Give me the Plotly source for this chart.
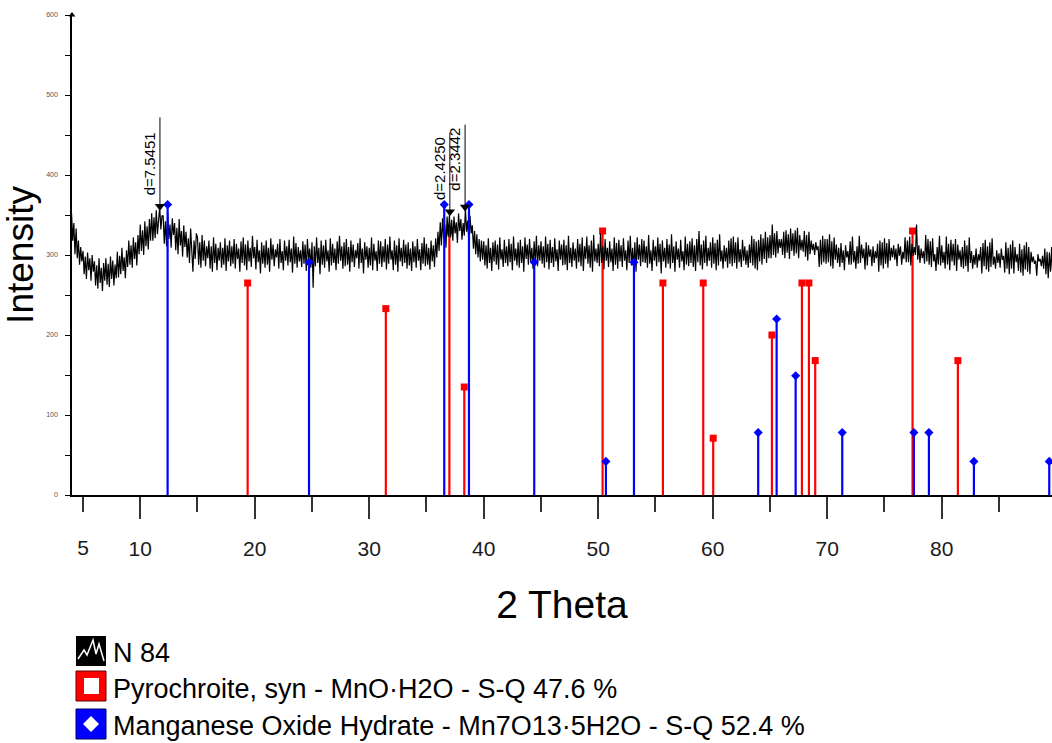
import plotly.graph_objects as go

# ---------------- data ----------------
scan_start = 4.0
scan_step = 0.1
intensity = [
    352,318,340,301,333,296,318,288,310,292,
    305,276,298,270,303,281,296,268,300,279,
    292,262,287,258,296,265,284,255,290,268,
    296,263,289,260,298,270,293,262,288,271,
    304,272,299,276,309,280,297,271,306,285,
    318,288,312,284,322,295,316,287,325,301,
    338,305,331,300,342,311,336,307,345,318,
    352,318,347,321,356,326,343,360,332,349,
    349,314,342,311,353,320,338,309,346,325,
    340,306,334,301,345,312,330,298,337,310,
    329,297,321,290,333,300,279,318,295,327,
    322,288,316,284,325,293,318,286,311,296,
    318,283,311,279,322,290,314,281,309,293,
    316,284,309,288,321,280,312,292,318,286,
    311,289,320,283,314,295,308,279,317,290,
    322,287,313,281,318,292,309,285,324,296,
    310,282,319,291,306,277,316,289,312,284,
    318,288,309,279,321,294,313,286,307,297,
    314,283,320,290,305,281,318,293,311,287,
    319,291,308,278,323,289,315,284,310,292,
    306,285,317,289,313,280,320,294,308,284,
    316,259,311,286,322,290,309,276,318,288,
    312,284,319,292,306,279,321,287,314,290,
    308,281,317,289,324,293,311,283,316,286,
    320,288,310,279,318,291,313,285,306,296,
    315,283,321,290,308,277,316,294,311,284,
    309,287,322,281,314,293,305,280,318,289,
    317,285,311,291,320,282,313,289,323,294,
    306,281,318,288,312,279,321,292,309,286,
    319,290,313,283,316,287,308,280,317,291,
    311,284,320,293,307,281,315,289,322,286,
    314,288,309,282,318,292,312,285,321,297,
    329,305,341,312,346,320,338,309,348,323,
    350,322,344,318,348,327,341,315,352,330,
    345,319,340,324,358,329,343,316,349,327,
    337,308,330,301,326,297,320,292,318,294,
    317,287,312,283,321,290,309,280,316,292,
    318,288,313,282,322,294,307,285,319,290,
    311,286,320,291,314,281,323,293,308,287,
    316,284,319,290,311,279,322,295,313,288,
    320,292,309,283,317,289,324,286,312,293,
    317,289,311,284,323,291,314,282,319,290,
    310,285,321,292,307,280,318,294,313,287,
    319,288,312,281,324,290,309,285,316,293,
    308,283,320,291,314,286,322,280,311,295,
    323,289,312,284,318,279,325,292,308,290,
    314,286,327,290,311,282,320,293,309,285,
    317,291,308,280,322,288,315,283,319,292,
    312,285,321,293,306,281,318,290,324,287,
    309,283,316,279,322,294,313,286,320,291,
    318,290,311,284,325,289,306,280,319,293,
    311,286,322,291,314,277,318,292,309,284,
    320,289,313,283,326,290,311,279,317,294,
    308,284,319,292,305,281,323,288,314,286,
    317,290,321,285,312,280,320,291,330,287,
    313,282,318,290,324,286,309,293,316,284,
    322,289,315,281,319,287,326,292,306,283,
    312,292,309,284,318,289,321,286,323,290,
    316,283,322,291,307,285,319,293,311,288,
    306,284,313,290,324,287,320,283,317,281,
    319,292,326,288,321,295,329,290,322,296,
    325,296,338,300,327,297,330,302,320,309,
    320,300,329,296,331,303,326,295,333,305,
    327,299,331,302,334,296,325,306,319,304,
    330,298,325,293,329,301,318,306,314,300,
    316,306,311,285,319,288,324,291,320,289,
    320,291,326,286,317,283,322,294,313,290,
    309,285,315,290,306,281,312,297,305,288,
    317,288,323,291,305,283,311,289,324,290,
    313,296,308,282,316,287,312,298,307,286,
    311,290,305,296,314,279,318,287,316,283,
    321,289,315,284,320,293,309,297,312,294,
    308,286,314,299,311,288,304,295,322,291,
    318,291,323,287,314,299,310,300,338,294,
    312,290,308,296,305,289,325,292,320,288,
    317,285,321,292,301,280,310,288,324,287,
    312,290,304,283,323,288,314,281,319,292,
    314,287,320,280,313,294,306,285,310,283,
    318,286,312,279,322,290,305,283,300,288,
    308,284,301,293,310,277,315,286,319,282,
    311,279,316,285,321,288,298,283,306,290,
    302,284,308,294,299,278,316,283,309,276,
    313,283,318,277,310,291,301,280,314,278,
    307,274,312,282,316,279,310,276,304,291,
    298,289,293,274,301,292,295,286,299,283,
    308,276,304,271,303,279,310,273,301,277,
    288,
]
two_theta = [round(scan_start + i * scan_step, 2) for i in range(len(intensity))]

pyro_theta = [19.38, 31.45, 37.0, 38.3, 50.38, 55.65, 59.17, 60.04, 65.17, 67.79, 68.40, 68.95, 77.45, 81.41]
pyro_int = [265, 233, 330, 135, 330, 265, 265, 71, 200, 265, 265, 168, 330, 168]

mnox_theta = [12.39, 24.74, 36.55, 38.71, 44.41, 50.67, 53.12, 63.97, 65.58, 67.24, 71.31, 77.57, 78.88, 82.81, 89.39]
mnox_int = [363, 291, 363, 363, 291, 42, 291, 78, 220, 149, 78, 78, 78, 42, 42]

peak_d = ["d=7.5451", "d=2.4250", "d=2.3442"]
peak_theta = [11.72, 37.04, 38.37]
peak_tip = [357, 350, 356]
peak_top = [472, 453, 463]
peak_text_bottom = [372, 366, 378]

x_ticks = [10, 20, 30, 40, 50, 60, 70, 80, 90]
x_minor = [5, 15, 25, 35, 45, 55, 65, 75, 85]
y_ticks = [0, 100, 200, 300, 400, 500, 600]
y_minor = [50, 150, 250, 350, 450, 550]

legend_labels = ["N 84",
                 "Pyrochroite, syn - MnO\u00b7H2O - S-Q 47.6 %",
                 "Manganese Oxide Hydrate - Mn7O13\u00b75H2O - S-Q 52.4 %"]

RED = "#ff0000"
BLUE = "#0000ff"
FONT = "Liberation Sans, Arial, sans-serif"

W, H = 1052, 743
ML, MR, MT, MB = 72, 0, 15, 248
XR = [4.04, 89.63]
YR = [0, 600]


def stems(xs, ys):
    sx, sy = [], []
    for x, y in zip(xs, ys):
        sx += [x, x, None]
        sy += [0, y, None]
    return sx, sy


fig = go.Figure()

# red sticks (below the pattern)
sx, sy = stems(pyro_theta, pyro_int)
fig.add_trace(go.Scatter(x=sx, y=sy, mode="lines", line=dict(color=RED, width=2.2),
                         hoverinfo="skip", showlegend=False, xaxis="x", yaxis="y"))
fig.add_trace(go.Scatter(x=pyro_theta, y=pyro_int, mode="markers",
                         marker=dict(symbol="square", size=7, color=RED),
                         showlegend=False, xaxis="x", yaxis="y"))

# measured pattern
fig.add_trace(go.Scatter(x=two_theta, y=intensity, mode="lines",
                         line=dict(color="black", width=1.2),
                         showlegend=False, xaxis="x2", yaxis="y"))

# blue sticks (above the pattern)
sx, sy = stems(mnox_theta, mnox_int)
fig.add_trace(go.Scatter(x=sx, y=sy, mode="lines", line=dict(color=BLUE, width=2.2),
                         hoverinfo="skip", showlegend=False, xaxis="x2", yaxis="y"))
fig.add_trace(go.Scatter(x=mnox_theta, y=mnox_int, mode="markers",
                         marker=dict(symbol="diamond", size=7, color=BLUE),
                         showlegend=False, xaxis="x2", yaxis="y"))

# d-spacing markers
lx, ly = [], []
for t, tip, top in zip(peak_theta, peak_tip, peak_top):
    lx += [t, t, None]
    ly += [tip, top, None]
fig.add_trace(go.Scatter(x=lx, y=ly, mode="lines", line=dict(color="black", width=1),
                         hoverinfo="skip", showlegend=False, xaxis="x2", yaxis="y"))
fig.add_trace(go.Scatter(x=peak_theta, y=[v + 4 for v in peak_tip], mode="markers",
                         marker=dict(symbol="triangle-down", size=9, color="black"),
                         showlegend=False, xaxis="x2", yaxis="y"))
for t, txt, yb in zip(peak_theta, peak_d, peak_text_bottom):
    fig.add_annotation(x=t, y=yb, xref="x2", yref="y", text=txt, textangle=-90,
                       showarrow=False, xanchor="right", yanchor="bottom", xshift=0,
                       font=dict(family=FONT, size=15, color="black"))

# y-axis arrow head
fig.add_trace(go.Scatter(x=[XR[0]], y=[YR[1]], mode="markers",
                         marker=dict(symbol="triangle-up", size=6, color="black"),
                         cliponaxis=False, showlegend=False, xaxis="x2", yaxis="y"))


def pxx(px):
    return (px - ML) / (W - ML - MR)


def pxy(py):
    return (H - MB - py) / (H - MT - MB)


# legend (drawn manually)
shapes = []
shapes.append(dict(type="rect", xref="paper", yref="paper", x0=pxx(76), x1=pxx(106),
                   y0=pxy(666), y1=pxy(636), fillcolor="black", line=dict(width=0)))
zig = [(78, 659), (84, 650), (87, 655), (93, 640), (96, 654), (99, 644), (104, 661)]
path = "M " + " L ".join(f"{pxx(a):.5f},{pxy(b):.5f}" for a, b in zig)
shapes.append(dict(type="path", xref="paper", yref="paper", path=path,
                   line=dict(color="white", width=1.5)))
shapes.append(dict(type="rect", xref="paper", yref="paper", x0=pxx(76), x1=pxx(106),
                   y0=pxy(701), y1=pxy(671), fillcolor=RED, line=dict(color="#600000", width=1)))
shapes.append(dict(type="rect", xref="paper", yref="paper", x0=pxx(84), x1=pxx(99),
                   y0=pxy(694), y1=pxy(678), fillcolor="white", line=dict(width=0)))
shapes.append(dict(type="rect", xref="paper", yref="paper", x0=pxx(76), x1=pxx(106),
                   y0=pxy(739), y1=pxy(709), fillcolor=BLUE, line=dict(color="#000060", width=1)))
dcx, dcy, dr = 91, 724, 8
dpath = (f"M {pxx(dcx):.5f},{pxy(dcy - dr):.5f} L {pxx(dcx + dr):.5f},{pxy(dcy):.5f} "
         f"L {pxx(dcx):.5f},{pxy(dcy + dr):.5f} L {pxx(dcx - dr):.5f},{pxy(dcy):.5f} Z")
shapes.append(dict(type="path", xref="paper", yref="paper", path=dpath,
                   fillcolor="white", line=dict(width=0)))

for lab, cy in zip(legend_labels, [653, 689, 726]):
    fig.add_annotation(x=pxx(111), y=pxy(cy), xref="paper", yref="paper", text=lab,
                       showarrow=False, xanchor="left", yanchor="middle",
                       font=dict(family=FONT, size=27, color="black"))

fig.update_layout(
    width=W, height=H,
    margin=dict(l=ML, r=MR, t=MT, b=MB, pad=0),
    plot_bgcolor="white", paper_bgcolor="white",
    shapes=shapes,
    showlegend=False,
    font=dict(family=FONT, color="black"),
    xaxis=dict(range=XR, autorange=False, showgrid=False, zeroline=False,
               showline=True, linecolor="black", linewidth=1.5,
               tickmode="array", tickvals=x_ticks, ticks="outside", ticklen=22,
               tickwidth=1.5, tickcolor="#333333", ticklabelstandoff=12,
               tickfont=dict(family=FONT, size=21, color="#1a1a1a"),
               minor=dict(tickmode="array", tickvals=x_minor, ticks="outside",
                          ticklen=15, tickwidth=1.5, tickcolor="#333333", showgrid=False),
               title=dict(text="2 Theta", font=dict(family=FONT, size=39, color="black"),
                          standoff=32)),
    xaxis2=dict(range=XR, autorange=False, overlaying="x", anchor="y", side="bottom",
                showgrid=False, zeroline=False, showline=False,
                tickmode="array", tickvals=[5], ticktext=["5"], ticks="outside",
                ticklen=22, tickwidth=1.5, tickcolor="rgba(0,0,0,0)", ticklabelstandoff=12,
                tickfont=dict(family=FONT, size=21, color="#1a1a1a")),
    yaxis=dict(range=YR, autorange=False, showgrid=False, zeroline=False,
               showline=True, linecolor="black", linewidth=1.5,
               tickmode="array", tickvals=y_ticks, ticks="outside", ticklen=5,
               tickwidth=1, tickcolor="black", ticklabelstandoff=6,
               tickfont=dict(family=FONT, size=7, color="#555555"),
               minor=dict(tickmode="array", tickvals=y_minor, ticks="outside",
                          ticklen=5, tickwidth=1, tickcolor="black", showgrid=False),
               title=dict(text="Intensity", font=dict(family=FONT, size=37, color="black"),
                          standoff=6)),
)

fig.write_html("out.html",
               config={"displayModeBar": False},
               post_script="document.body.style.margin='0';document.body.style.overflow='hidden';")
